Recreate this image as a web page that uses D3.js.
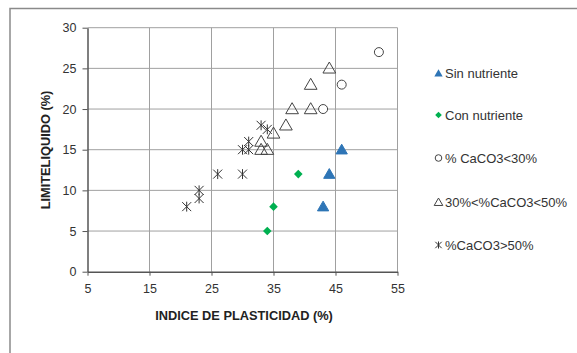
<!DOCTYPE html>
<html><head><meta charset="utf-8">
<script src="https://cdn.jsdelivr.net/npm/d3@7"></script>
<style>body{margin:0;background:#fff}svg{display:block;font-family:"Liberation Sans",Arial,sans-serif}</style>
</head><body><svg id="c" width="577" height="353"></svg>
<script>
const sinNutriente = [[46,15],[44,12],[43,8]];
const conNutriente = [[39,12],[35,8],[34,5]];
const caco3Lt30 = [[52,27],[46,23],[43,20]];
const caco3Mid = [[44,25],[41,23],[38,20],[41,20],[37,18],[35,17],[33,16],[33,15],[34,15]];
const caco3Gt50 = [[21,8],[23,9],[23,10],[26,12],[30,12],[30,15],[31,15],[31,16],[33,18],[34,17.5]];
const xTicks = [5,15,25,35,45,55];
const yTicks = [0,5,10,15,20,25,30];
const legendLabels = ["Sin nutriente","Con nutriente","% CaCO3<30%","30%<%CaCO3<50%","%CaCO3>50%"];

const svg = d3.select("#c");
const L=87.5,R=397.5,T=27.7,B=271.7;
const x = d3.scaleLinear().domain([5,55]).range([L,R]);
const y = d3.scaleLinear().domain([0,30]).range([B,T]);

svg.append("path").attr("d","M10,353V8.5H577").attr("fill","none").attr("stroke","#8a8a8a").attr("stroke-width",1.5);

svg.append("g").selectAll("line").data(xTicks.slice(1)).join("line")
  .attr("x1",d=>x(d)).attr("x2",d=>x(d)).attr("y1",T).attr("y2",B)
  .attr("stroke","#a0a0a0").attr("stroke-width",1);
svg.append("g").selectAll("line").data(yTicks.slice(1)).join("line")
  .attr("x1",L).attr("x2",R).attr("y1",d=>y(d)).attr("y2",d=>y(d))
  .attr("stroke","#a0a0a0").attr("stroke-width",1);

const xAxis = svg.append("g").attr("transform",`translate(0,${B})`)
  .call(d3.axisBottom(x).tickValues(xTicks).tickSize(4).tickSizeOuter(0).tickPadding(8));
const yAxis = svg.append("g").attr("transform",`translate(${L},0)`)
  .call(d3.axisLeft(y).tickValues(yTicks).tickSize(5).tickSizeOuter(0).tickPadding(6));
[xAxis,yAxis].forEach(a=>{
  a.select(".domain").attr("stroke","#555").attr("stroke-width",1.5);
  a.selectAll(".tick line").attr("stroke","#555");
  a.selectAll("text").attr("font-size",12.5).attr("fill","#333").attr("font-family","'Liberation Sans',Arial,sans-serif");
});

svg.append("text").attr("x",244).attr("y",320).attr("text-anchor","middle")
  .attr("font-size",12.8).attr("font-weight","bold").attr("fill","#222").text("INDICE DE PLASTICIDAD (%)");
svg.append("text").attr("transform","translate(50,150) rotate(-90)").attr("text-anchor","middle")
  .attr("font-size",12.8).attr("font-weight","bold").attr("fill","#222").text("LIMITELIQUIDO (%)");

const triUp = d3.symbol().type(d3.symbolTriangle);
function drawTri(g,data,fill,stroke,size){
  g.selectAll(null).data(data).join("path")
   .attr("d",triUp.size(size)()).attr("transform",d=>`translate(${x(d[0])},${y(d[1])+1})`)
   .attr("fill",fill).attr("stroke",stroke).attr("stroke-width",1);
}
function diamond(s){return `M0,${-s}L${s},0L0,${s}L${-s},0Z`;}
const g = svg.append("g");
function star(sel,s){
  sel.append("path").attr("d",`M${-s},${-s}L${s},${s}M${-s},${s}L${s},${-s}M0,${-s*1.1}L0,${s*1.1}`)
    .attr("stroke","#333").attr("stroke-width",1).attr("fill","none");
}
g.selectAll(null).data(caco3Gt50).join("g").attr("transform",d=>`translate(${x(d[0])},${y(d[1])})`).each(function(){star(d3.select(this),4.5);});
drawTri(g,caco3Mid,"none","#444",70);
g.selectAll(null).data(caco3Lt30).join("circle").attr("cx",d=>x(d[0])).attr("cy",d=>y(d[1])).attr("r",4.5)
  .attr("fill","#fff").attr("stroke","#444").attr("stroke-width",1);
drawTri(g,sinNutriente,"#2e75b6","#2e75b6",55);
g.selectAll(null).data(conNutriente).join("path").attr("d",diamond(4.3))
  .attr("transform",d=>`translate(${x(d[0])},${y(d[1])})`).attr("fill","#00b050");

const lg = svg.append("g");
const ly = [73,115,158,202,245];
legendLabels.forEach((t,i)=>{
  const r = lg.append("g").attr("transform",`translate(438.5,${ly[i]})`);
  if(i===0) r.append("path").attr("d",d3.symbol().type(d3.symbolTriangle).size(30)()).attr("transform","translate(0,1)").attr("fill","#2e75b6");
  if(i===1) r.append("path").attr("d",diamond(3.3)).attr("fill","#00b050");
  if(i===2) r.append("circle").attr("r",3.3).attr("fill","none").attr("stroke","#444");
  if(i===3) r.append("path").attr("d",d3.symbol().type(d3.symbolTriangle).size(32)()).attr("transform","translate(0,1)").attr("fill","none").attr("stroke","#444");
  if(i===4) star(r,3.2);
  r.append("text").attr("x",6.5).attr("y",4.6).attr("font-size",13).attr("fill","#333").text(t);
});
</script></body></html>
